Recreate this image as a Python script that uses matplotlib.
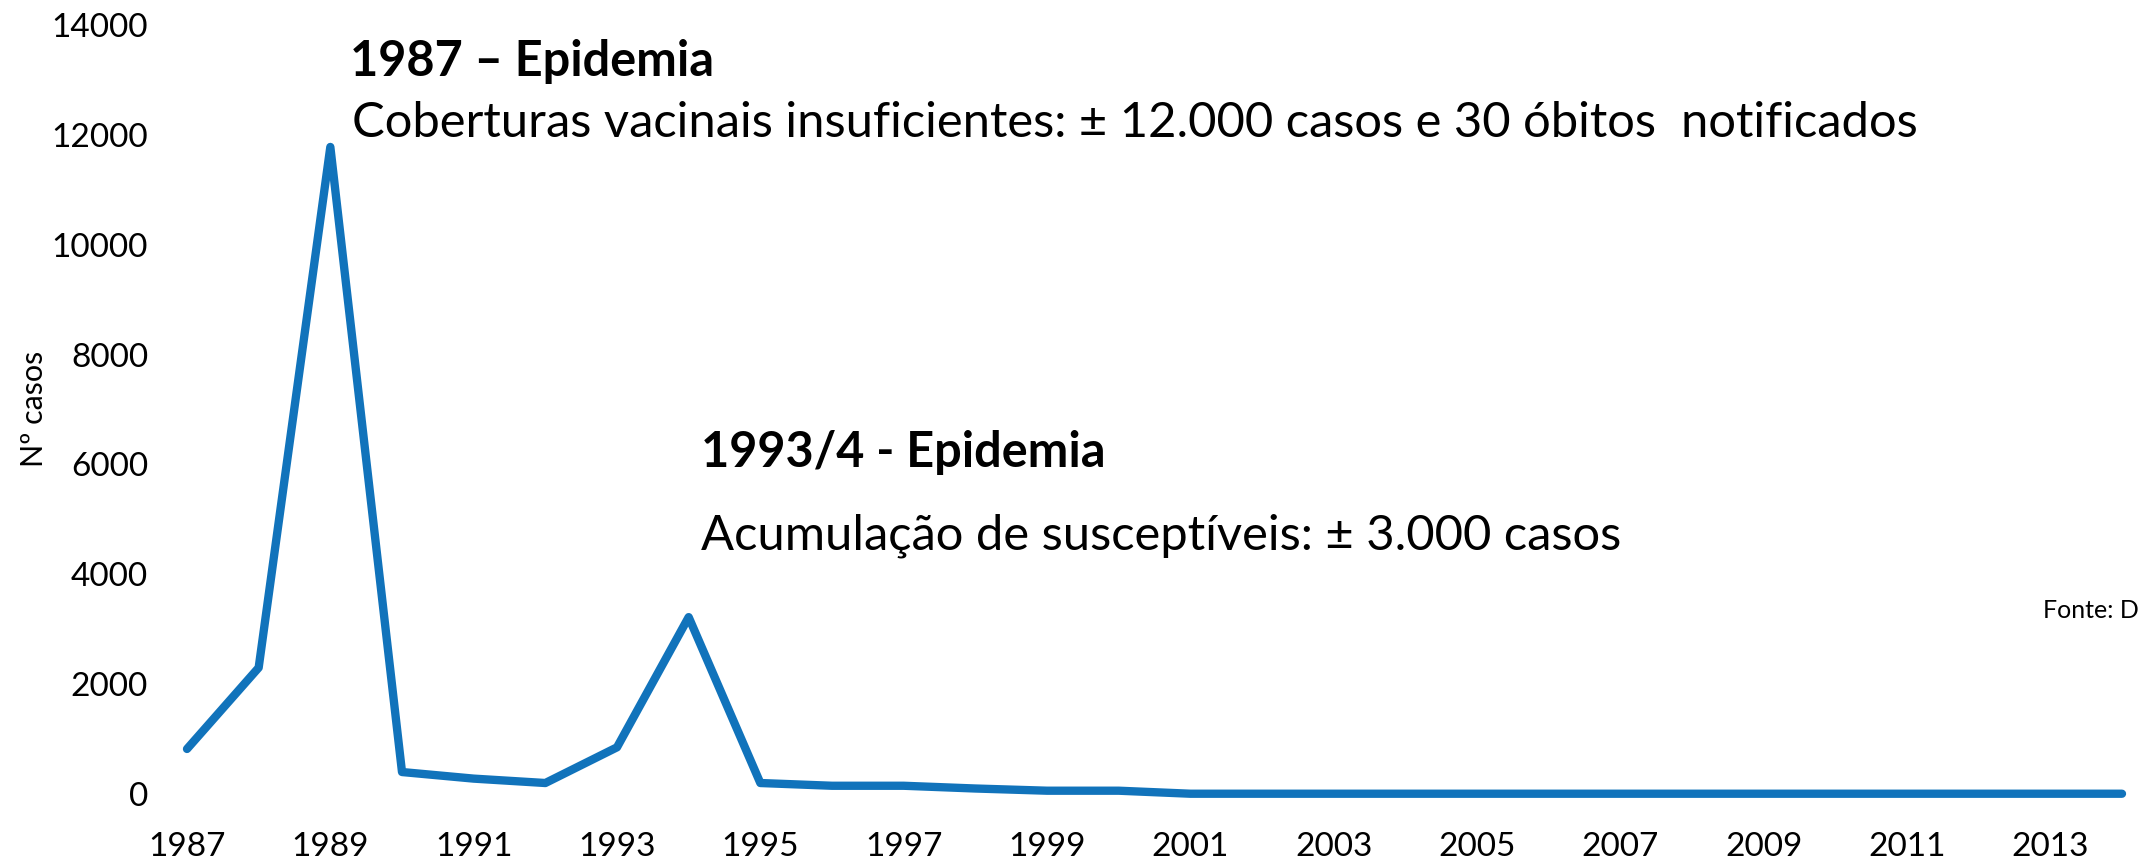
import matplotlib.pyplot as plt

# casos notificados de sarampo por ano
anos = list(range(1987, 2015))
casos = [820, 2300, 11780, 400, 280, 200, 850, 3220, 200, 150,
         150, 100, 60, 60, 5, 5, 5, 5, 5, 5,
         5, 5, 5, 5, 5, 5, 5, 5]
anos_ticks = list(range(1987, 2014, 2))
y_ticks = [0, 2000, 4000, 6000, 8000, 10000, 12000, 14000]

titulo1 = "1987 \u2013 Epidemia"
texto1 = "Coberturas vacinais insuficientes: \u00b1 12.000 casos e 30 \u00f3bitos  notificados"
titulo2 = "1993/4 - Epidemia"
texto2 = "Acumula\u00e7\u00e3o de suscept\u00edveis: \u00b1 3.000 casos"
fonte = "Fonte: D"

plt.rcParams['font.family'] = ['Lato', 'DejaVu Sans']

W, H = 2139, 858
fig = plt.figure(figsize=(W / 100, H / 100), dpi=100)
ax = fig.add_axes([187 / W, 1 - 794 / H, (2122 - 187) / W, (794 - 25) / H])

ax.plot(anos, casos, color='#1173BB', lw=6, solid_joinstyle='round',
        solid_capstyle='round', clip_on=False)

ax.set_xlim(1987, 2014)
ax.set_ylim(0, 14000)
ax.set_xticks(anos_ticks)
ax.set_xticklabels([str(a) for a in anos_ticks])
ax.set_yticks(y_ticks)
ax.set_yticklabels([str(v) for v in y_ticks])
ax.tick_params(axis='both', length=0, labelsize=24, colors='black')
ax.tick_params(axis='x', pad=27)
ax.tick_params(axis='y', pad=28)
for s in ax.spines.values():
    s.set_visible(False)

fig.text(34 / W, 1 - 409 / H, "N\u00ba casos", rotation=90, ha='center',
         va='center', fontsize=22)

fig.text(350 / W, 1 - 61 / H, titulo1, fontsize=35, fontweight='bold',
         ha='left', va='center')
fig.text(352 / W, 1 - 123 / H, texto1, fontsize=35.2, ha='left', va='center')
fig.text(701 / W, 1 - 452 / H, titulo2, fontsize=35, fontweight='bold',
         ha='left', va='center')
fig.text(701 / W, 1 - 536 / H, texto2, fontsize=35.2, ha='left', va='center')
fig.text(2043 / W, 1 - 610 / H, fonte, fontsize=18, ha='left', va='center')

fig.savefig('out.png', dpi=100)
